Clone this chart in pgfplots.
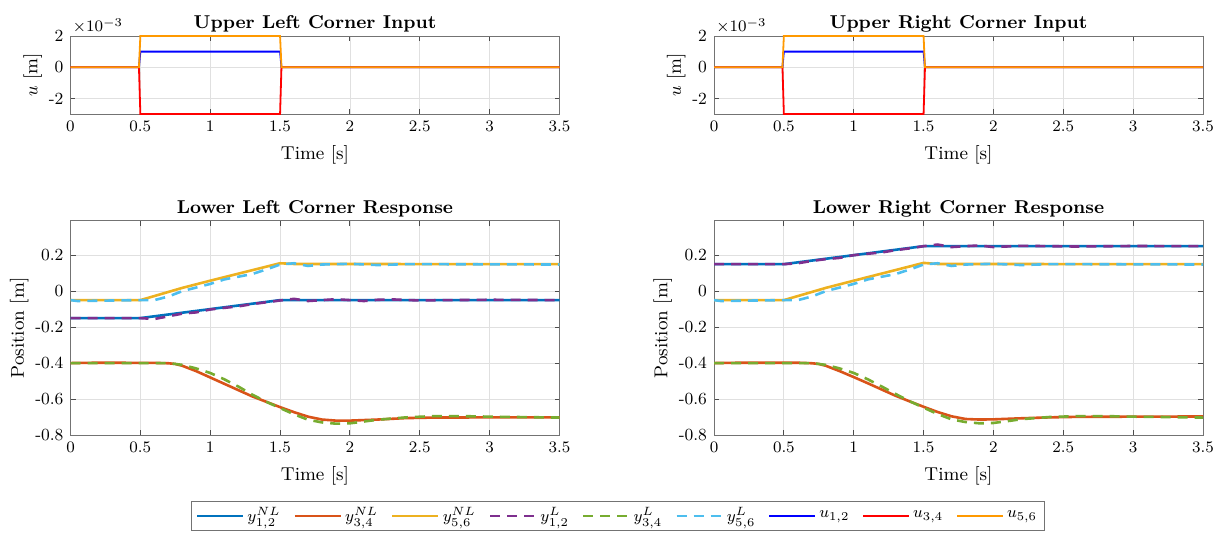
\documentclass[border=0pt]{standalone}
\usepackage{pgfplots}
\pgfplotsset{compat=1.18}
\definecolor{c1}{rgb}{0,0.447,0.741}
\definecolor{c2}{rgb}{0.85,0.325,0.098}
\definecolor{c3}{rgb}{0.929,0.694,0.125}
\definecolor{c4}{rgb}{0.494,0.184,0.556}
\definecolor{c5}{rgb}{0.466,0.674,0.188}
\definecolor{c6}{rgb}{0.301,0.745,0.933}
\definecolor{uorange}{rgb}{1,0.6,0}
\pgfplotsset{
 base/.style={scale only axis, width=244.5pt, xmin=0, xmax=3.5,
   xtick={0,0.5,1,1.5,2,2.5,3,3.5}, grid=major,
   major grid style={black!12, line width=0.4pt},
   axis line style={black!55, line width=0.5pt},
   tick style={black!70, line width=0.5pt}, major tick length=2.5pt,
   tick pos=both, tick align=inside, xlabel={Time [s]},
   scaled y ticks=false,
   tick label style={font=\fontsize{8.5}{10}\selectfont},
   label style={font=\fontsize{9.3}{11}\selectfont},
   ylabel style={yshift=-3.5pt},
   title style={font=\fontsize{9.3}{11}\selectfont\bfseries},
   every axis title shift=-1.5pt,
   anchor=south west},
 topax/.style={base, height=39pt, ymin=-0.003, ymax=0.002,
   ytick={-0.002,0,0.002}, yticklabels={-2,0,2}, ylabel={$u$ [m]}, clip=false},
 botax/.style={base, height=107pt, ymin=-0.8, ymax=0.39,
   ytick={-0.8,-0.6,-0.4,-0.2,0,0.2}, yticklabels={-0.8,-0.6,-0.4,-0.2,0,0.2},
   ylabel={Position [m]}},
 nl/.style={line width=1.3pt},
 lin/.style={line width=1.3pt, dash pattern=on 5pt off 3.5pt},
 uu/.style={line width=0.9pt},
}
\begin{document}
\begin{tikzpicture}
\path[use as bounding box] (0,0) rectangle (612.5pt,266pt);
% ---------- top left
\begin{axis}[topax, at={(35.25pt,209pt)}, title={Upper Left Corner Input}]
\addplot[uu, blue] coordinates {(0,0) (0.49,0) (0.5,0.001) (1.5,0.001) (1.51,0) (3.5,0)};
\addplot[uu, red] coordinates {(0,0) (0.49,0) (0.5,-0.003) (1.5,-0.003) (1.51,0) (3.5,0)};
\addplot[uu, uorange] coordinates {(0,0) (0.49,0) (0.5,0.002) (1.5,0.002) (1.51,0) (3.5,0)};
\node[anchor=south west, inner sep=1pt, font=\fontsize{8.5}{10}\selectfont] at (rel axis cs:0,1) {$\times10^{-3}$};
\end{axis}
% ---------- top right
\begin{axis}[topax, at={(357pt,209pt)}, title={Upper Right Corner Input}]
\addplot[uu, blue] coordinates {(0,0) (0.49,0) (0.5,0.001) (1.5,0.001) (1.51,0) (3.5,0)};
\addplot[uu, red] coordinates {(0,0) (0.49,0) (0.5,-0.003) (1.5,-0.003) (1.51,0) (3.5,0)};
\addplot[uu, uorange] coordinates {(0,0) (0.49,0) (0.5,0.002) (1.5,0.002) (1.51,0) (3.5,0)};
\node[anchor=south west, inner sep=1pt, font=\fontsize{8.5}{10}\selectfont] at (rel axis cs:0,1) {$\times10^{-3}$};
\end{axis}
% ---------- bottom left
\begin{axis}[botax, at={(35.25pt,48.5pt)}, title={Lower Left Corner Response},
  legend style={at={(1.1196,-0.3785)}, anchor=center, draw=black!55, line width=0.5pt,
    font=\fontsize{8}{9}\selectfont, inner xsep=2pt, inner ysep=1.5pt,
    nodes={inner sep=1.5pt},
    /tikz/every even column/.append style={column sep=5pt}},
  legend columns=9,
  legend image code/.code={\draw[#1] (0pt,0pt) -- (23pt,0pt);}]
\addplot[nl, c1] coordinates {(0,-0.15) (0.5,-0.15) (1.5,-0.05) (3.5,-0.05)};
\addplot[nl, c2] coordinates {(0,-0.4) (0.2,-0.398) (0.6,-0.399) (0.7,-0.401) (0.75,-0.405) (0.8,-0.415) (0.9,-0.445) (1.0,-0.48) (1.1,-0.515) (1.2,-0.55) (1.3,-0.585) (1.4,-0.615) (1.5,-0.645) (1.6,-0.673) (1.7,-0.698) (1.8,-0.714) (1.9,-0.72) (2.0,-0.72) (2.2,-0.714) (2.4,-0.706) (2.6,-0.703) (3.0,-0.702) (3.5,-0.702)};
\addplot[nl, c3] coordinates {(0,-0.05) (0.5,-0.05) (0.8,0.018) (1.0,0.058) (1.5,0.155) (1.6,0.151) (3.5,0.15)};
\addplot[lin, c4] coordinates {(0,-0.15) (0.5,-0.15) (0.6,-0.155) (0.7,-0.14) (0.8,-0.125) (0.9,-0.118) (1.0,-0.102) (1.1,-0.093) (1.2,-0.085) (1.3,-0.072) (1.4,-0.062) (1.5,-0.052) (1.6,-0.043) (1.7,-0.055) (1.8,-0.05) (1.9,-0.045) (2.0,-0.05) (2.1,-0.055) (2.2,-0.048) (2.3,-0.046) (2.5,-0.052) (2.7,-0.05) (3.0,-0.048) (3.5,-0.05)};
\addplot[lin, c5] coordinates {(0,-0.4) (0.5,-0.4) (0.7,-0.4) (0.8,-0.41) (0.9,-0.43) (1.0,-0.455) (1.1,-0.49) (1.2,-0.53) (1.3,-0.575) (1.4,-0.615) (1.5,-0.65) (1.6,-0.685) (1.7,-0.715) (1.8,-0.73) (1.9,-0.737) (2.0,-0.735) (2.1,-0.725) (2.2,-0.715) (2.4,-0.702) (2.6,-0.695) (2.8,-0.695) (3.0,-0.698) (3.2,-0.7) (3.5,-0.703)};
\addplot[lin, c6] coordinates {(0,-0.05) (0.05,-0.055) (0.3,-0.052) (0.5,-0.05) (0.6,-0.05) (0.7,-0.03) (0.8,0.0) (0.9,0.02) (1.0,0.04) (1.1,0.065) (1.2,0.08) (1.3,0.095) (1.4,0.12) (1.5,0.148) (1.6,0.155) (1.7,0.14) (1.8,0.148) (2.0,0.152) (2.2,0.145) (2.4,0.15) (2.6,0.15) (3.0,0.149) (3.5,0.148)};
\addlegendentry{$y^{NL}_{1,2}$}
\addlegendentry{$y^{NL}_{3,4}$}
\addlegendentry{$y^{NL}_{5,6}$}
\addlegendentry{$y^{L}_{1,2}$}
\addlegendentry{$y^{L}_{3,4}$}
\addlegendentry{$y^{L}_{5,6}$}
\addlegendimage{uu, blue}
\addlegendentry{$u_{1,2}$}
\addlegendimage{uu, red}
\addlegendentry{$u_{3,4}$}
\addlegendimage{uu, uorange}
\addlegendentry{$u_{5,6}$}
\end{axis}
% ---------- bottom right
\begin{axis}[botax, at={(357pt,48.5pt)}, title={Lower Right Corner Response}]
\addplot[nl, c1] coordinates {(0,0.15) (0.5,0.15) (1.5,0.25) (3.5,0.25)};
\addplot[nl, c2] coordinates {(0,-0.4) (0.2,-0.398) (0.6,-0.398) (0.7,-0.401) (0.75,-0.405) (0.8,-0.415) (0.9,-0.445) (1.0,-0.478) (1.1,-0.512) (1.2,-0.547) (1.3,-0.582) (1.4,-0.613) (1.5,-0.643) (1.6,-0.672) (1.7,-0.696) (1.8,-0.711) (1.9,-0.714) (2.0,-0.713) (2.2,-0.707) (2.4,-0.702) (2.6,-0.699) (3.0,-0.698) (3.5,-0.697)};
\addplot[nl, c3] coordinates {(0,-0.05) (0.5,-0.05) (0.8,0.018) (1.0,0.058) (1.5,0.157) (1.6,0.151) (3.5,0.15)};
\addplot[lin, c4] coordinates {(0,0.15) (0.5,0.15) (0.6,0.155) (0.7,0.168) (0.8,0.178) (0.9,0.185) (1.0,0.2) (1.1,0.208) (1.2,0.215) (1.3,0.228) (1.4,0.238) (1.5,0.25) (1.6,0.259) (1.7,0.245) (1.8,0.25) (1.9,0.254) (2.0,0.245) (2.2,0.252) (2.4,0.25) (2.6,0.248) (3.0,0.251) (3.5,0.25)};
\addplot[lin, c5] coordinates {(0,-0.4) (0.5,-0.4) (0.7,-0.4) (0.8,-0.41) (0.9,-0.43) (1.0,-0.455) (1.1,-0.49) (1.2,-0.53) (1.3,-0.572) (1.4,-0.612) (1.5,-0.648) (1.6,-0.683) (1.7,-0.713) (1.8,-0.728) (1.9,-0.735) (2.0,-0.733) (2.1,-0.723) (2.2,-0.712) (2.4,-0.7) (2.6,-0.695) (2.8,-0.695) (3.0,-0.698) (3.2,-0.7) (3.5,-0.703)};
\addplot[lin, c6] coordinates {(0,-0.05) (0.05,-0.055) (0.3,-0.052) (0.5,-0.05) (0.6,-0.05) (0.7,-0.03) (0.8,0.0) (0.9,0.02) (1.0,0.04) (1.1,0.065) (1.2,0.08) (1.3,0.095) (1.4,0.12) (1.5,0.148) (1.6,0.155) (1.7,0.14) (1.8,0.148) (2.0,0.152) (2.2,0.145) (2.4,0.15) (2.6,0.15) (3.0,0.149) (3.5,0.148)};
\end{axis}
\end{tikzpicture}
\end{document}
